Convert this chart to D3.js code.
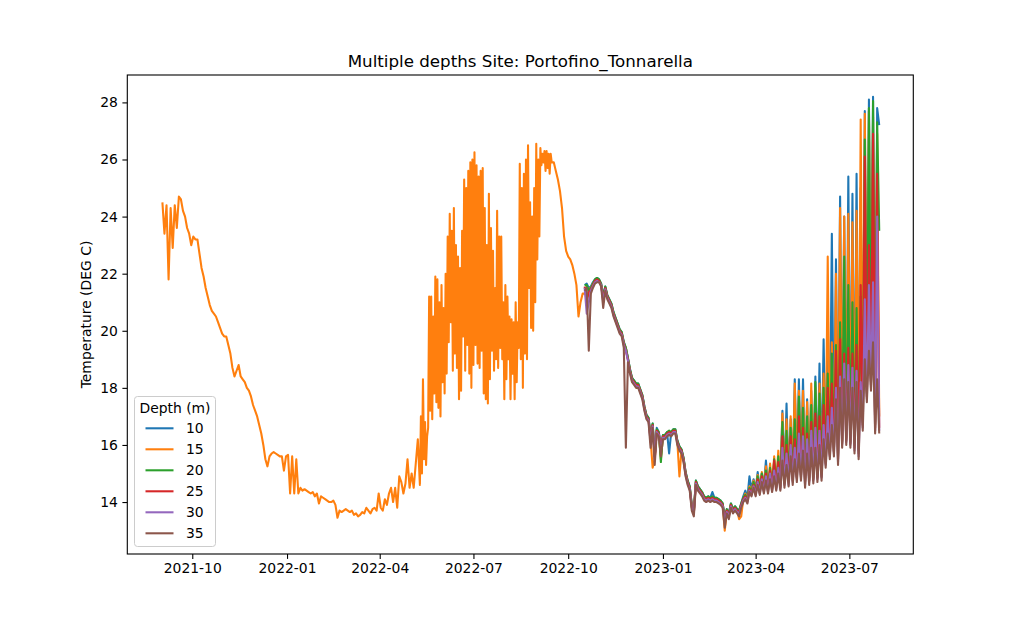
<!DOCTYPE html>
<html>
<head>
<meta charset="utf-8">
<script src="https://cdn.jsdelivr.net/npm/d3@7"></script>
<style>
  html, body { margin: 0; padding: 0; background: #ffffff; }
  svg { display: block; font-family: "DejaVu Sans", sans-serif; }
</style>
</head>
<body>
<div id="chart"></div>
<script>
// Logger readings, one array per depth (2-day step, daily through summer 2022 at 15 m).
var depthLabels = ['10', '15', '20', '25', '30', '35'];
var colors = ['#1f77b4', '#ff7f0e', '#2ca02c', '#d62728', '#9467bd', '#8c564b'];
var xTicks = ['2021-10-01', '2022-01-01', '2022-04-01', '2022-07-01', '2022-10-01',
              '2023-01-01', '2023-04-01', '2023-07-01'];
var xTickLabels = ['2021-10', '2022-01', '2022-04', '2022-07', '2022-10', '2023-01', '2023-04', '2023-07'];
var yTicks = [14, 16, 18, 20, 22, 24, 26, 28];

var depth10 = [
  21.6, 21.65, 21.5, 21.55, 21.7, 21.8, 21.85, 21.8, 21.65, 21.2, 21.55, 21.25, 21.1, 20.95, 20.65, 20.45, 20.25, 20.05, 19.95, 19.6,
  19.4, 19.05, 18.65, 18.35, 18.25, 18.15, 18.15, 17.95, 17.75, 17.35, 17.05, 16.95, 16.3, 16.75, 15.6, 16.6, 16.45, 16.0, 16.35, 16.35,
  16.45, 15.7, 16.45, 16.55, 16.55, 16.15, 15.95, 15.85, 15.55, 15.05, 14.75, 14.55, 13.9, 13.7, 14.75, 14.55, 14.45, 14.35, 14.2, 14.15,
  14.2, 14.15, 14.35, 14.15, 14.15, 14.1, 14.05, 13.95, 13.45, 13.75, 13.6, 13.95, 13.75, 13.85, 13.75, 13.7, 13.95, 14.2,
  14.4, 14.15, 14.9, 14.45, 14.8, 14.45, 15.05, 14.5, 15.0, 14.55, 15.45, 14.55, 15.0, 14.6, 15.2, 14.65, 15.4, 14.65,
  17.2, 14.8, 17.45, 14.85, 16.9, 14.9, 18.3, 15.0, 18.3, 15.05, 18.3, 14.85, 17.6, 14.9, 17.9, 14.95, 18.4, 15.0,
  18.85, 15.05, 19.7, 15.5, 20.3, 15.8, 23.4, 15.9, 22.5, 15.7, 24.7, 16.2, 24.0, 16.3, 25.4, 16.2, 24.8, 16.1,
  25.5, 15.9, 25.0, 16.9, 27.7, 17.9, 28.1, 18.3, 28.2, 16.8, 27.8, 27.2
];
// 15 m: autumn 2021 to spring 2022
var depth15a = [
  24.5, 23.4, 24.4, 21.8, 24.3, 22.9, 24.4, 23.6, 24.7, 24.6,
  24.2, 24.0, 23.6, 23.4, 23.0, 23.3, 23.2, 23.2, 22.7, 22.2,
  21.9, 21.5, 21.2, 20.9, 20.7, 20.6, 20.5, 20.3, 20.1, 19.9,
  19.8, 19.8, 19.5, 19.2, 18.7, 18.4, 18.6, 18.8, 18.4, 18.3,
  18.2, 18.0, 17.9, 17.7, 17.4, 17.2, 17.0, 16.7, 16.4, 16.0,
  15.5, 15.25, 15.6, 15.7, 15.75, 15.7, 15.65, 15.6, 15.6, 15.1,
  15.6, 15.65, 14.3, 15.6, 14.3, 15.5, 14.3, 14.5, 14.4, 14.45,
  14.4, 14.35, 14.3, 14.35, 14.2, 14.3, 13.95, 14.2, 14.15, 14.1,
  14.05, 14.0, 14.0, 14.05, 13.9, 13.45, 13.7, 13.65, 13.7, 13.75,
  13.7, 13.65, 13.7, 13.55, 13.6, 13.5, 13.55, 13.65, 13.6, 13.8,
  13.7, 13.6, 13.75, 13.8, 13.7, 14.3, 13.8, 13.7, 14.1, 13.9,
  14.3, 14.5, 14.0, 14.5, 13.8, 14.9, 14.7, 14.3, 14.65, 15.5,
  14.5, 15.0, 14.5, 15.35, 16.2, 14.6
];
// 15 m: summer 2022, daily
var depth15b = [
  17.0, 15.0, 18.3, 15.5, 16.8, 15.3, 16.3, 16.6, 21.2, 17.2, 21.2, 16.9, 20.5, 17.8, 21.9, 17.5,
  21.8, 17.3, 21.0, 17.0, 21.6, 18.2, 20.8, 17.8, 22.0, 18.5, 23.3, 19.6, 24.1, 20.3, 23.5, 18.6,
  24.3, 19.2, 23.0, 18.7, 22.6, 17.6, 22.2, 17.9, 23.5, 19.8, 25.3, 18.6, 25.0, 19.5, 25.6, 18.5,
  25.9, 18.0, 26.0, 18.8, 26.25, 19.5, 25.8, 18.85, 25.4, 18.7, 25.6, 19.3, 25.7, 17.8, 24.3, 17.6,
  23.0, 17.45, 24.8, 18.3, 23.6, 19.3, 22.8, 18.6, 21.5, 19.0, 24.2, 18.7, 23.3, 19.4, 23.3, 19.0,
  21.0, 17.6, 21.6, 18.3, 21.2, 19.0, 20.5, 17.6, 20.4, 18.5, 20.3, 17.6, 21.0, 18.2, 20.3, 19.4,
  25.85, 19.0, 25.0, 18.0, 25.5, 19.2, 26.0, 19.0, 26.5, 21.5, 24.5, 20.1, 24.0, 20.0, 25.0, 21.0,
  26.55, 22.5, 26.0, 23.3, 26.4, 25.8, 26.2, 25.9, 26.3, 25.6, 26.3, 25.7, 26.2, 25.5, 26.2, 25.9
];
// 15 m: autumn 2022 onwards
var depth15c = [
  25.9, 25.6, 25.3, 24.9, 24.3, 23.3, 22.8, 22.6, 22.5, 22.3,
  22.0, 21.6, 20.5, 21.0, 21.3, 21.3,
  21.55, 21.45, 21.5, 21.65, 21.75, 21.8, 21.75, 21.6, 21.15, 21.5, 21.2, 21.05, 20.9, 20.6, 20.4, 20.2, 20.0, 19.9, 19.55,
  19.4, 19.0, 18.6, 18.3, 18.2, 18.1, 18.1, 17.9, 17.7, 17.3, 17.0, 16.9, 16.2, 15.2, 15.5, 16.5, 16.4, 15.5, 16.3, 16.3,
  16.4, 16.45, 16.4, 16.5, 16.5, 16.1, 14.9, 15.8, 15.5, 15.0, 14.7, 14.5, 13.8, 13.6, 14.7, 14.5, 14.4, 14.3, 14.15, 14.1,
  14.15, 14.1, 14.15, 14.1, 14.1, 14.05, 14.0, 13.9, 13.0, 13.65, 13.5, 13.9, 13.7, 13.8, 13.7, 13.4, 13.5, 14.1,
  14.3, 14.1, 14.55, 14.4, 14.75, 14.4, 14.95, 14.45, 15.05, 14.5, 15.25, 14.5, 15.35, 14.55, 15.6, 14.6, 15.8, 14.6,
  17.1, 14.75, 16.9, 14.8, 17.0, 14.85, 18.15, 14.95, 17.9, 15.0, 17.9, 14.8, 17.5, 14.85, 18.15, 14.9, 18.0, 14.95,
  18.15, 15.0, 18.5, 15.45, 22.6, 15.75, 19.6, 15.85, 22.0, 15.65, 24.3, 16.15, 24.0, 16.25, 24.1, 16.15, 23.8, 16.05,
  24.2, 15.85, 27.4, 16.85, 27.6, 17.85, 27.7, 18.25, 27.5, 16.75, 26.9, 17.0
];
var depth20 = [
  21.6, 21.6, 21.4, 21.5, 21.65, 21.8, 21.85, 21.8, 21.65, 21.2, 21.55, 21.25, 21.1, 20.95, 20.65, 20.45, 20.25, 20.05, 19.95, 19.6,
  19.4, 19.05, 18.65, 18.35, 18.25, 18.15, 18.15, 17.95, 17.75, 17.35, 17.05, 16.95, 16.3, 16.75, 15.6, 16.55, 16.45, 15.4, 16.35, 16.35,
  16.45, 16.5, 16.45, 16.55, 16.55, 16.15, 15.95, 15.85, 15.55, 15.05, 14.75, 14.55, 13.9, 13.7, 14.75, 14.55, 14.45, 14.35, 14.2, 14.15,
  14.2, 14.15, 14.2, 14.15, 14.15, 14.1, 14.05, 13.95, 13.45, 13.75, 13.6, 13.95, 13.75, 13.85, 13.75, 13.7, 13.95, 14.15,
  14.25, 14.1, 14.5, 14.35, 14.7, 14.35, 14.9, 14.4, 15.0, 14.45, 15.1, 14.45, 15.2, 14.5, 15.5, 14.55, 15.6, 14.55,
  16.8, 14.7, 16.5, 14.75, 16.6, 14.8, 16.9, 14.9, 17.7, 14.95, 17.3, 14.75, 17.0, 14.8, 17.4, 14.85, 18.2, 14.9,
  17.8, 14.95, 18.0, 15.4, 18.5, 15.7, 19.2, 15.8, 19.5, 15.6, 20.3, 16.1, 22.6, 16.2, 21.6, 16.1, 21.0, 16.0,
  20.8, 15.8, 21.2, 16.8, 26.7, 17.8, 27.8, 18.2, 28.05, 16.7, 27.3, 23.5
];
var depth25 = [
  21.55, 21.0, 21.35, 21.45, 21.6, 21.75, 21.8, 21.75, 21.6, 21.1, 21.5, 21.2, 21.05, 20.9, 20.6, 20.4, 20.2, 20.0, 19.9, 19.55,
  19.3, 19.0, 18.6, 18.3, 18.2, 18.1, 18.1, 17.9, 17.7, 17.3, 17.0, 16.9, 16.2, 16.7, 15.5, 16.5, 16.4, 15.9, 16.3, 16.3,
  16.4, 16.45, 16.4, 16.5, 16.5, 16.1, 15.9, 15.8, 15.5, 15.0, 14.7, 14.5, 13.85, 13.65, 14.7, 14.5, 14.4, 14.3, 14.15, 14.1,
  14.15, 14.1, 14.15, 14.1, 14.1, 14.05, 14.0, 13.9, 13.4, 13.7, 13.55, 13.9, 13.7, 13.8, 13.7, 13.65, 13.9, 14.1,
  14.2, 14.05, 14.45, 14.3, 14.6, 14.3, 14.8, 14.35, 14.9, 14.4, 15.0, 14.4, 15.1, 14.45, 15.45, 14.5, 15.4, 14.5,
  16.3, 14.65, 16.0, 14.7, 16.3, 14.75, 16.2, 14.85, 17.0, 14.9, 16.6, 14.7, 16.4, 14.75, 16.8, 14.8, 17.1, 14.85,
  17.0, 14.9, 17.4, 15.35, 18.0, 15.65, 18.15, 15.75, 19.3, 15.5, 19.7, 16.05, 19.2, 16.15, 19.4, 16.05, 19.2, 15.9,
  19.5, 15.7, 21.6, 16.7, 26.1, 17.7, 23.0, 18.1, 26.9, 16.6, 25.5, 16.6
];
var depth30 = [
  21.5, 20.6, 21.0, 21.4, 21.55, 21.7, 21.75, 21.7, 21.6, 21.0, 21.45, 21.15, 21.0, 20.85, 20.55, 20.35, 20.15, 19.95, 19.85, 19.5,
  19.3, 18.95, 18.55, 18.25, 18.15, 18.05, 18.05, 17.85, 17.65, 17.25, 16.95, 16.85, 16.1, 16.65, 15.6, 16.45, 16.35, 15.8, 16.25, 16.25,
  16.35, 16.4, 16.35, 16.45, 16.45, 16.05, 15.85, 15.75, 15.45, 14.95, 14.65, 14.45, 13.8, 13.6, 14.65, 14.45, 14.35, 14.25, 14.1, 14.05,
  14.1, 14.05, 14.1, 14.05, 14.05, 14.0, 13.95, 13.85, 13.3, 13.65, 13.5, 13.85, 13.65, 13.75, 13.65, 13.6, 13.85, 14.05,
  14.15, 14.0, 14.4, 14.25, 14.55, 14.25, 14.7, 14.3, 14.8, 14.35, 14.9, 14.35, 15.0, 14.4, 15.1, 14.45, 15.2, 14.45,
  15.9, 14.6, 15.7, 14.6, 16.0, 14.7, 15.9, 14.8, 16.4, 14.85, 16.3, 14.6, 16.2, 14.7, 16.5, 14.75, 16.6, 14.8,
  16.5, 14.85, 16.7, 15.3, 17.0, 15.6, 17.3, 15.7, 18.0, 15.4, 18.4, 16.0, 18.85, 16.1, 18.8, 16.0, 18.7, 15.8,
  18.6, 15.6, 18.2, 16.6, 21.1, 17.6, 21.6, 18.0, 21.7, 16.5, 24.0, 16.5
];
var depth35 = [
  21.4, 21.5, 19.3, 21.3, 21.5, 21.65, 21.7, 21.7, 21.55, 20.8, 21.4, 21.1, 20.95, 20.8, 20.5, 20.3, 20.1, 19.9, 19.8, 19.4,
  15.9, 18.9, 18.5, 18.2, 18.1, 18.0, 18.0, 17.8, 17.6, 17.2, 16.9, 16.8, 15.9, 16.6, 15.3, 16.4, 16.3, 15.6, 16.2, 16.2,
  16.3, 16.35, 16.3, 16.4, 16.4, 16.0, 15.8, 15.7, 15.4, 14.9, 14.6, 14.4, 13.7, 13.5, 14.6, 14.4, 14.3, 14.2, 14.05, 14.0,
  14.05, 14.0, 14.05, 14.0, 14.0, 13.95, 13.9, 13.8, 13.1, 13.6, 13.4, 13.8, 13.6, 13.7, 13.6, 13.5, 13.8, 14.0,
  14.1, 13.95, 14.35, 14.2, 14.5, 14.2, 14.6, 14.25, 14.7, 14.3, 14.75, 14.3, 14.8, 14.35, 14.9, 14.4, 15.0, 14.4,
  15.45, 14.5, 15.3, 14.55, 15.6, 14.6, 15.5, 14.7, 15.7, 14.75, 15.8, 14.5, 15.7, 14.6, 15.9, 14.65, 15.9, 14.7,
  16.0, 14.75, 16.2, 15.2, 16.4, 15.5, 16.7, 15.6, 17.6, 15.3, 18.0, 15.9, 18.3, 16.0, 18.2, 15.9, 18.0, 15.7,
  18.2, 15.5, 17.9, 16.5, 19.0, 17.5, 19.3, 17.9, 19.6, 16.4, 18.3, 16.4
];

// each depth: list of [first date, step in days, readings]
var depthSegments = [
  [['2022-10-17', 2, depth10]],
  [['2021-09-02', 2, depth15a], ['2022-05-11', 1, depth15b], ['2022-09-17', 2, depth15c]],
  [['2022-10-17', 2, depth20]],
  [['2022-10-17', 2, depth25]],
  [['2022-10-17', 2, depth30]],
  [['2022-10-17', 2, depth35]]
];

var width = 1014, height = 622;
var margin = {top: 75, right: 100.7, bottom: 68, left: 127.3};
var font = '"DejaVu Sans", "Liberation Sans", sans-serif';
var lineWidth = 2.08;   // 1.5pt at 100 dpi

var parse = d3.utcParse('%Y-%m-%d');
var series = depthLabels.map(function(label, k) {
  var points = [];
  depthSegments[k].forEach(function(seg) {
    var t0 = parse(seg[0]);
    seg[2].forEach(function(v, i) {
      points.push({date: d3.utcDay.offset(t0, i * seg[1]), value: v});
    });
  });
  return {label: label, color: colors[k], points: points};
});

var svg = d3.select('#chart').append('svg')
    .attr('width', width)
    .attr('height', height);

var x = d3.scaleUtc()
    .domain([new Date(Date.UTC(2021, 6, 29, 22)), new Date(Date.UTC(2023, 8, 1, 2))])
    .range([margin.left, width - margin.right]);
var y = d3.scaleLinear()
    .domain([12.18, 28.96])
    .range([height - margin.bottom, margin.top]);

var line = d3.line()
    .x(function(d) { return x(d.date); })
    .y(function(d) { return y(d.value); });

svg.append('g')
  .selectAll('path').data(series)
  .enter().append('path')
    .attr('d', function(s) { return line(s.points); })
    .attr('fill', 'none')
    .attr('stroke', function(s) { return s.color; })
    .attr('stroke-width', lineWidth)
    .attr('stroke-linejoin', 'round');

// axes
var xAxis = svg.append('g')
    .attr('transform', 'translate(0,' + (height - margin.bottom) + ')')
    .call(d3.axisBottom(x)
      .tickValues(xTicks.map(parse))
      .tickFormat(function(d, i) { return xTickLabels[i]; })
      .tickSize(4.9).tickPadding(4.5));
var yAxis = svg.append('g')
    .attr('transform', 'translate(' + margin.left + ',0)')
    .call(d3.axisLeft(y).tickValues(yTicks).tickSize(4.9).tickPadding(4.5));
[xAxis, yAxis].forEach(function(g) {
  g.select('.domain').remove();
  g.selectAll('line').attr('stroke', '#000').attr('stroke-width', 1.1);
  g.selectAll('text').attr('fill', '#000')
    .style('font-family', font).style('font-size', '13.9px');
});

svg.append('rect')
    .attr('x', margin.left)
    .attr('y', margin.top)
    .attr('width', width - margin.left - margin.right)
    .attr('height', height - margin.top - margin.bottom)
    .attr('fill', 'none')
    .attr('stroke', '#000')
    .attr('stroke-width', 1.1);

svg.append('text')
    .attr('x', (margin.left + width - margin.right) / 2)
    .attr('y', margin.top - 8.5)
    .attr('text-anchor', 'middle')
    .style('font-family', font)
    .style('font-size', '16.7px')
    .text('Multiple depths Site: Portofino_Tonnarella');

svg.append('text')
    .attr('transform', 'translate(91,' + ((margin.top + height - margin.bottom) / 2) + ') rotate(-90)')
    .attr('text-anchor', 'middle')
    .style('font-family', font)
    .style('font-size', '13.9px')
    .text('Temperature (DEG C)');

// legend
var legend = svg.append('g').attr('transform', 'translate(134.5,396.5)');
legend.append('rect')
    .attr('width', 81)
    .attr('height', 150)
    .attr('rx', 3)
    .attr('fill', '#fff')
    .attr('fill-opacity', 0.8)
    .attr('stroke', '#cccccc')
    .attr('stroke-width', 1);
legend.append('text')
    .attr('x', 40.5)
    .attr('y', 16)
    .attr('text-anchor', 'middle')
    .style('font-family', font)
    .style('font-size', '13.9px')
    .text('Depth (m)');
var items = legend.selectAll('g.item').data(series)
  .enter().append('g')
    .attr('class', 'item')
    .attr('transform', function(s, i) { return 'translate(0,' + (31.8 + i * 21) + ')'; });
items.append('line')
    .attr('x1', 11).attr('x2', 39)
    .attr('stroke', function(s) { return s.color; })
    .attr('stroke-width', lineWidth);
items.append('text')
    .attr('x', 51.5)
    .attr('y', 5)
    .style('font-family', font)
    .style('font-size', '13.9px')
    .text(function(s) { return s.label; });
</script>
</body>
</html>
